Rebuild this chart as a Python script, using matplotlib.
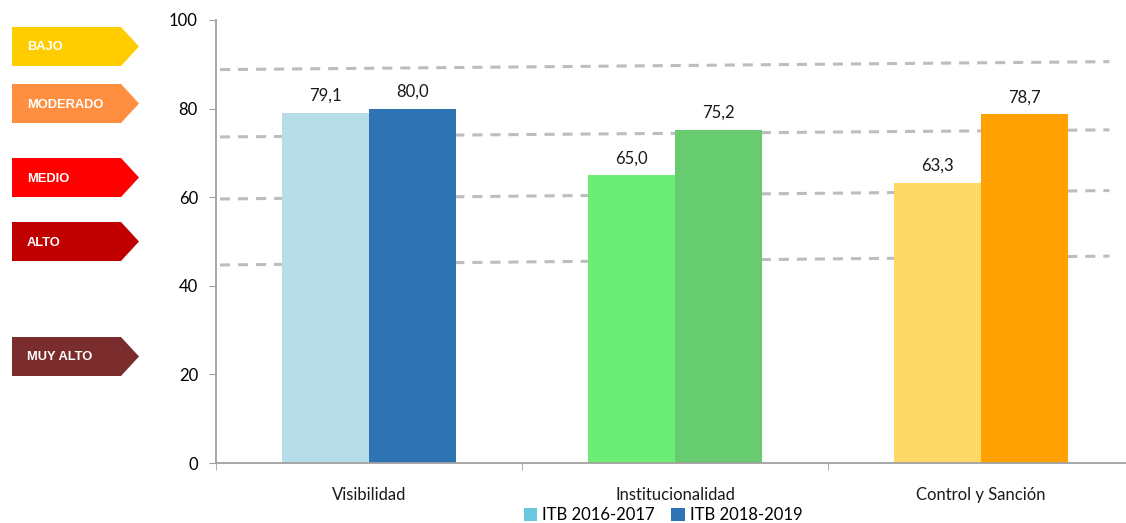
import matplotlib
matplotlib.use("Agg")
import matplotlib.pyplot as plt
from matplotlib.patches import Polygon, Patch
import numpy as np

categories = ["Visibilidad", "Institucionalidad", "Control y Sanción"]
itb_2016 = [79.1, 65.0, 63.3]
itb_2018 = [80.0, 75.2, 78.7]
colors_2016 = ["#B7DDE8", "#6CEE76", "#FFD966"]
colors_2018 = ["#2E74B5", "#67CB70", "#FFA100"]
legend_labels = ["ITB 2016-2017", "ITB 2018-2019"]
legend_colors = ["#6BC7DD", "#2E74B5"]

# sloped dashed threshold lines (left value, right value)
thresholds_left = [88.8, 73.6, 59.6, 44.7]
thresholds_right = [90.6, 75.2, 61.5, 46.7]

risk_levels = ["BAJO", "MODERADO", "MEDIO", "ALTO", "MUY ALTO"]
risk_colors = ["#FFCC00", "#FF8F40", "#FF0000", "#C00000", "#7B2C2C"]
risk_top_px = [27, 84, 158, 222, 337]

W, H = 1126, 523
fig = plt.figure(figsize=(W / 100, H / 100), dpi=100)
ax = fig.add_axes([216 / W, (H - 463) / H, (W - 216) / W, (463 - 20) / H])

font = "Lato"
x = np.arange(len(categories))
bw = 0.285

for yl, yr in zip(thresholds_left, thresholds_right):
    ax.plot([-0.487, 2.42], [yl, yr], color="#BDBDBD", lw=2.2,
            dashes=(3.3, 2.6), zorder=1, solid_capstyle="butt")

ax.bar(x - bw / 2, itb_2016, width=bw, color=colors_2016, zorder=2)
ax.bar(x + bw / 2, itb_2018, width=bw, color=colors_2018, zorder=2)

for xi, v in zip(x - bw / 2, itb_2016):
    ax.text(xi, v + 2.0, f"{v:.1f}".replace(".", ","), ha="center", va="bottom",
            fontsize=12, family=font, color="#1a1a1a")
for xi, v in zip(x + bw / 2, itb_2018):
    ax.text(xi, v + 2.0, f"{v:.1f}".replace(".", ","), ha="center", va="bottom",
            fontsize=12, family=font, color="#1a1a1a")

ax.set_ylim(0, 100)
ax.set_xlim(-0.5, -0.5 + (W - 216) / 306)
ax.set_yticks([0, 20, 40, 60, 80, 100])
ax.set_xticks(x)
ax.set_xticklabels(categories, fontsize=12, family=font, color="#1a1a1a")
ax.tick_params(axis="x", length=0, pad=17)
ax.set_xticks([-0.5, 0.5, 1.5], minor=True)
ax.tick_params(axis="x", which="minor", length=5, color="#A0A0A0", direction="out")
ax.tick_params(axis="y", length=5, color="#A0A0A0", labelsize=12, pad=8)
for lab in ax.get_yticklabels():
    lab.set_family(font)
for s in ["top", "right"]:
    ax.spines[s].set_visible(False)
for s in ["left", "bottom"]:
    ax.spines[s].set_color("#A0A0A0")
    ax.spines[s].set_linewidth(1.3)

# risk level arrow labels on the left
for name, col, top in zip(risk_levels, risk_colors, risk_top_px):
    y0 = (H - top) / H
    y1 = (H - top - 39) / H
    ym = (y0 + y1) / 2
    pts = [(12 / W, y0), (121 / W, y0), (139 / W, ym), (121 / W, y1), (12 / W, y1)]
    fig.patches.append(Polygon(pts, closed=True, transform=fig.transFigure,
                               facecolor=col, edgecolor="none"))
    fig.text(27 / W, ym - 1 / H, name, color="white", fontsize=9.3, fontweight="bold",
             family="Liberation Sans", va="center", ha="left")

handles = [Patch(facecolor=c, edgecolor="none") for c in legend_colors]
fig.legend(handles, legend_labels, loc="center", bbox_to_anchor=(663 / W, (H - 515) / H),
           ncol=2, frameon=False, prop={"family": font, "size": 12},
           handlelength=0.8, handleheight=0.8, handletextpad=0.3, columnspacing=1.0)

fig.savefig("out.png", dpi=100)
